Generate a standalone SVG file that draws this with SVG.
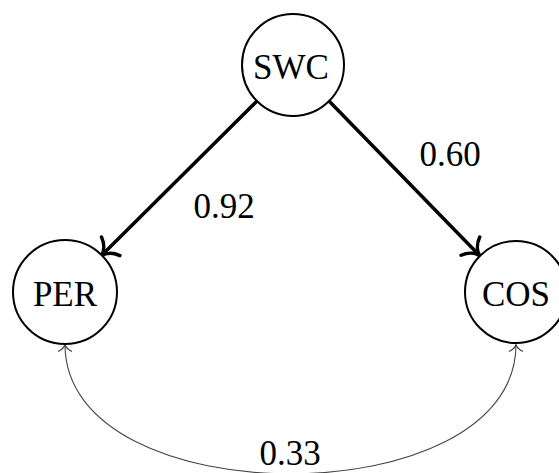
<svg xmlns="http://www.w3.org/2000/svg" width="559" height="473" viewBox="0 0 559 473">
<style>
.node circle{fill:#fff;stroke:#000;stroke-width:2}
.node text{font-family:"Liberation Serif","Times New Roman",serif;font-size:35px;text-anchor:middle;fill:#000}
.lbl{font-family:"Liberation Serif","Times New Roman",serif;font-size:35px;text-anchor:middle;fill:#000}
.thick{stroke:#000;stroke-width:3.5;fill:none;stroke-linecap:round}
.thin{stroke:#444;stroke-width:1.1;fill:none}
</style>
<defs>
<marker id="big" markerUnits="userSpaceOnUse" viewBox="-16 -16 20 32" refX="0" refY="0" markerWidth="20" markerHeight="32" orient="auto" overflow="visible">
<path d="M -13,-13 C -10,-5 -4,-1 0,0 C -4,1 -10,5 -13,13" fill="none" stroke="#000" stroke-width="3.5" stroke-linecap="round" stroke-linejoin="round"/>
</marker>
<marker id="small" markerUnits="userSpaceOnUse" viewBox="-10 -10 12 20" refX="0" refY="0" markerWidth="12" markerHeight="20" orient="auto-start-reverse" overflow="visible">
<path d="M -7,-7 C -5,-3 -2,-0.5 0,0 C -2,0.5 -5,3 -7,7" fill="none" stroke="#444" stroke-width="1.1"/>
</marker>
</defs>
<g id="connectors">
<path class="thick" d="M 257,101 L 101.5,255.5" marker-end="url(#big)"/>
<path class="thick" d="M 329,101 L 479.5,255.5" marker-end="url(#big)"/>
<path class="thin" d="M 65,344.5 C 65,517 516,517 516,344.5" marker-start="url(#small)" marker-end="url(#small)"/>
<text class="lbl" x="224" y="218">0.92</text>
<text class="lbl" x="450" y="166">0.60</text>
<text class="lbl" x="290" y="465">0.33</text>
</g>
<g id="SWC" class="node">
<circle cx="293" cy="65" r="51"/>
<text x="291" y="79">SWC</text>
</g>
<g id="PER" class="node">
<circle cx="65" cy="292" r="52"/>
<text x="65" y="306">PER</text>
</g>
<g id="COS" class="node">
<circle cx="516" cy="292" r="51"/>
<text x="516" y="306">COS</text>
</g>
</svg>
